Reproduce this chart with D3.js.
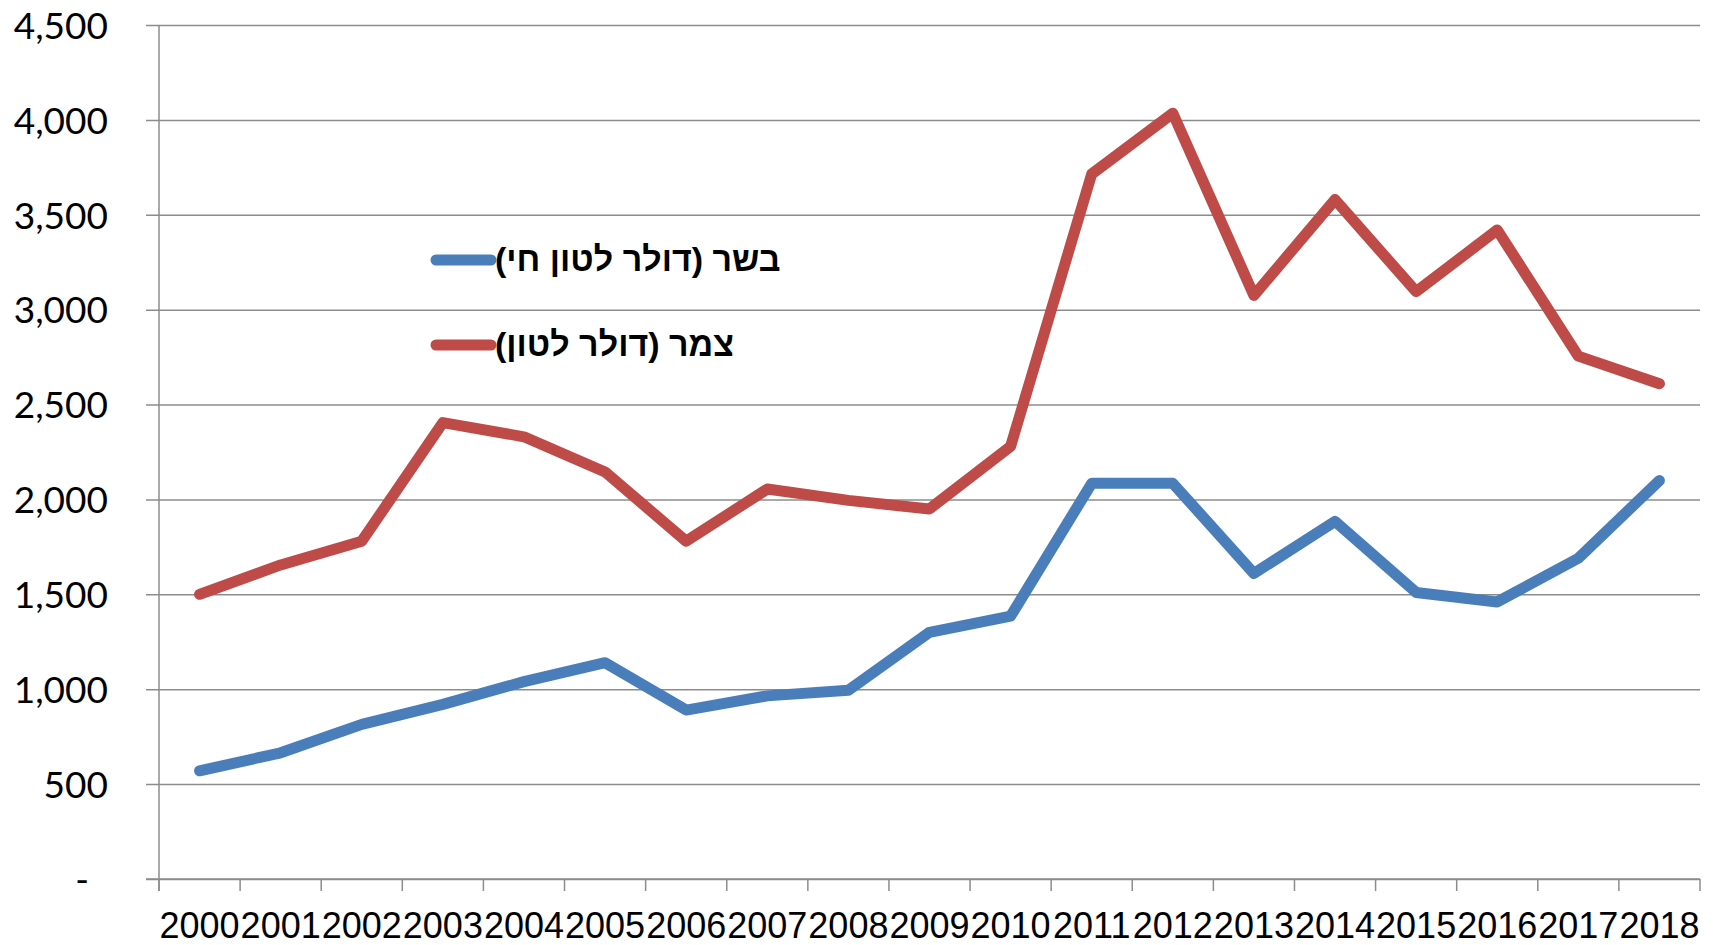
<!DOCTYPE html>
<html>
<head>
<meta charset="utf-8">
<script src="https://cdn.jsdelivr.net/npm/d3@7"></script>
<style>
  body { margin: 0; background: #fff; }
  svg { display: block; }
</style>
</head>
<body>
<svg id="chart" width="1719" height="945"></svg>
<script>
const years = ["2000", "2001", "2002", "2003", "2004", "2005", "2006", "2007", "2008", "2009",
  "2010", "2011", "2012", "2013", "2014", "2015", "2016", "2017", "2018"];
const meat = [570, 665, 815, 920, 1040, 1140, 890, 965, 995, 1300,
  1385, 2085, 2085, 1610, 1885, 1510, 1460, 1690, 2100];
const wool = [1500, 1655, 1780, 2405, 2330, 2145, 1780, 2055, 1995, 1950,
  2280, 3715, 4035, 3075, 3580, 3095, 3420, 2755, 2610];
const yTicks = [0, 500, 1000, 1500, 2000, 2500, 3000, 3500, 4000, 4500];
const seriesNames = ["בשר (דולר לטון חי)", "צמר (דולר לטון)"];
const seriesColors = ["#4a7ebb", "#be4b48"];

const plot = { left: 159, right: 1700, top: 25, bottom: 879 };
const svg = d3.select("#chart");

const x = d3.scaleBand().domain(years).range([plot.left, plot.right]).padding(0);
const y = d3.scaleLinear().domain([0, 4500]).range([plot.bottom, plot.top]);

// gridlines + y axis
const yAxis = d3.axisLeft(y)
  .tickValues(yTicks)
  .tickSize(plot.left - plot.right)
  .tickPadding(0)
  .tickFormat((d) => (d === 0 ? "-" : d3.format(",")(d)));

const yg = svg.append("g")
  .attr("transform", `translate(${plot.left},0)`)
  .call(yAxis);
yg.select(".domain").remove();
yg.selectAll(".tick line")
  .attr("x1", -13)
  .attr("stroke", "#8c8c8c")
  .attr("stroke-width", 1.5);
yg.selectAll(".tick text")
  .attr("x", -51)
  .attr("font-family", "Lato, 'Open Sans', sans-serif")
  .attr("font-size", 37)
  .attr("fill", "#000")
  .attr("dy", "0.36em");
yg.selectAll(".tick text").filter((d) => d === 0).attr("x", -70);

// y axis line
svg.append("line")
  .attr("x1", plot.left).attr("x2", plot.left)
  .attr("y1", plot.top).attr("y2", plot.bottom + 12)
  .attr("stroke", "#8c8c8c").attr("stroke-width", 1.5);

// x axis line and tick marks between categories
svg.append("line")
  .attr("x1", plot.left - 13).attr("x2", plot.right)
  .attr("y1", plot.bottom).attr("y2", plot.bottom)
  .attr("stroke", "#8c8c8c").attr("stroke-width", 1.5);

const edges = years.map((d) => x(d)).concat([plot.right]);
svg.append("g").selectAll("line")
  .data(edges)
  .join("line")
  .attr("x1", (d) => d).attr("x2", (d) => d)
  .attr("y1", plot.bottom).attr("y2", plot.bottom + 12)
  .attr("stroke", "#8c8c8c").attr("stroke-width", 1.5);

svg.append("g").selectAll("text")
  .data(years)
  .join("text")
  .attr("x", (d) => x(d) + x.bandwidth() / 2)
  .attr("y", 938)
  .attr("text-anchor", "middle")
  .attr("font-family", "'Liberation Sans', Arial, sans-serif")
  .attr("font-size", 36)
  .attr("fill", "#000")
  .text((d) => d);

// lines
const line = d3.line()
  .x((d, i) => x(years[i]) + x.bandwidth() / 2)
  .y((d) => y(d));

[meat, wool].forEach((vals, i) => {
  svg.append("path")
    .datum(vals)
    .attr("d", line)
    .attr("fill", "none")
    .attr("stroke", seriesColors[i])
    .attr("stroke-width", 11)
    .attr("stroke-linecap", "round")
    .attr("stroke-linejoin", "round");
});

// legend
const legendY = [260, 345];
seriesNames.forEach((name, i) => {
  const g = svg.append("g");
  g.append("line")
    .attr("x1", 436).attr("x2", 491)
    .attr("y1", legendY[i]).attr("y2", legendY[i])
    .attr("stroke", seriesColors[i])
    .attr("stroke-width", 11)
    .attr("stroke-linecap", "round");
  g.append("text")
    .attr("x", 495)
    .attr("y", legendY[i] + 11)
    .attr("direction", "rtl")
    .attr("text-anchor", "end")
    .attr("font-family", "'Liberation Sans', Arial, sans-serif")
    .attr("font-weight", "bold")
    .attr("font-size", 34)
    .attr("fill", "#000")
    .text(name);
});
</script>
</body>
</html>
